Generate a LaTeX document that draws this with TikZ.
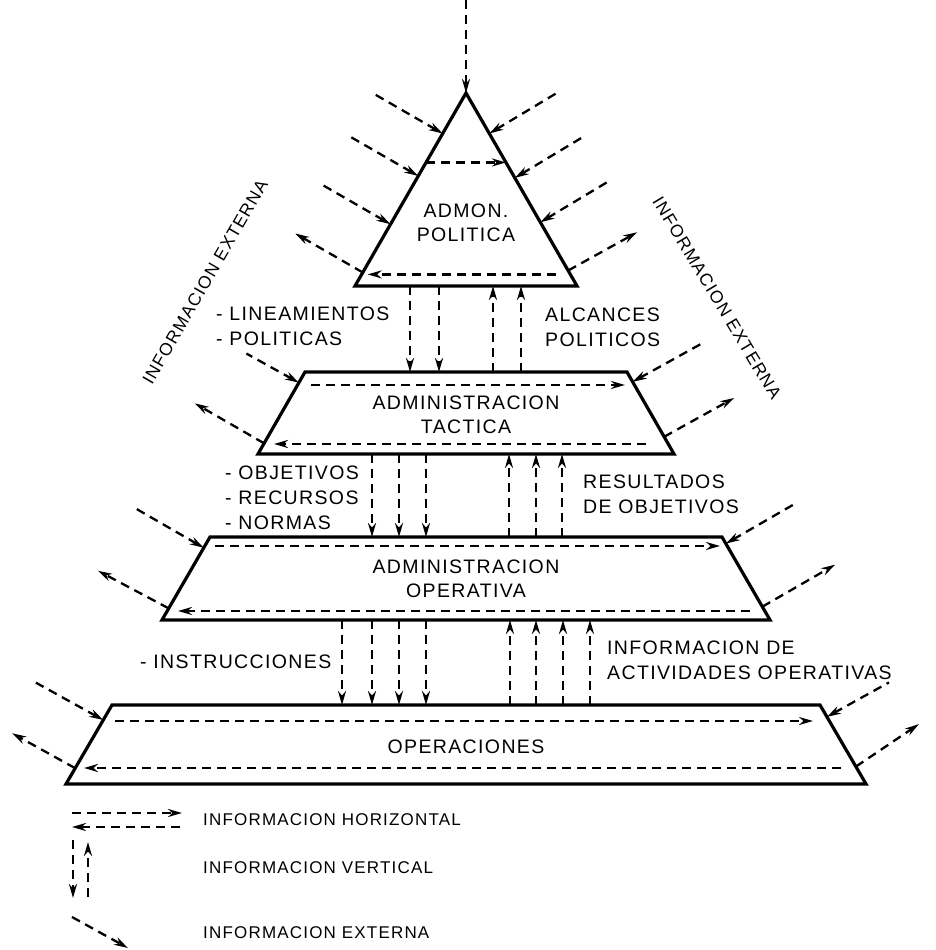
\documentclass[tikz,border=0pt]{standalone}
\usepackage{fontspec}
\setmainfont{Liberation Sans}[LetterSpace=7]
\usetikzlibrary{arrows.meta,calc}

\begin{document}
\begin{tikzpicture}[x=1pt, y=1pt,
    tier/.style={draw=black, line width=3.2pt, line join=miter},
    tiertext/.style={align=center, inner sep=0pt, font=\fontsize{19.5}{24}\selectfont},
    flow/.style={line width=2.3pt, dash pattern=on 9pt off 6pt, -{Stealth[length=14pt,width=8pt]}},
    flowin/.style={line width=2.3pt, dash pattern=on 9pt off 6pt, {Stealth[length=14pt,width=8pt]}-},
    lbl/.style={anchor=west, align=left, inner sep=0pt, font=\fontsize{19.5}{25}\selectfont},
    rotlbl/.style={inner sep=0pt, font=\fontsize{17.5}{20}\selectfont},
    lgd/.style={anchor=west, inner sep=0pt, font=\fontsize{17}{20}\selectfont}]
    \useasboundingbox (0,0) rectangle (936,950);

    \coordinate (polA) at (466,857);
    \coordinate (polL) at (355,664);
    \coordinate (polR) at (577,664);
    \coordinate (polS) at (466,664);

    \coordinate (tacTL) at (305,578);
    \coordinate (tacTR) at (627,578);
    \coordinate (tacBR) at (674,496);
    \coordinate (tacBL) at (258,496);
    \coordinate (tacN) at (466,578);
    \coordinate (tacS) at (466,496);

    \coordinate (opeTL) at (210,413);
    \coordinate (opeTR) at (722,413);
    \coordinate (opeBR) at (770,330);
    \coordinate (opeBL) at (162,330);
    \coordinate (opeN) at (466,413);
    \coordinate (opeS) at (466,330);

    \coordinate (opsTL) at (112,245);
    \coordinate (opsTR) at (820,245);
    \coordinate (opsBR) at (866,166);
    \coordinate (opsBL) at (66,166);
    \coordinate (opsN) at (466,245);

    \draw[tier] (polA) -- (polR) -- (polL) -- cycle;
    \draw[tier] (tacTL) -- (tacTR) -- (tacBR) -- (tacBL) -- cycle;
    \draw[tier] (opeTL) -- (opeTR) -- (opeBR) -- (opeBL) -- cycle;
    \draw[tier] (opsTL) -- (opsTR) -- (opsBR) -- (opsBL) -- cycle;

    \node[tiertext](politica) at (466,727){ADMON.\\POLITICA};
    \node[tiertext](tactica) at (466,535){ADMINISTRACION\\TACTICA};
    \node[tiertext](operativa) at (466,371){ADMINISTRACION\\OPERATIVA};
    \node[tiertext](operaciones) at (466,203){OPERACIONES};

    \node[lbl](lineam) at (216,623.5){- LINEAMIENTOS\\- POLITICAS};
    \node[lbl](alcances) at (545,623){ALCANCES\\POLITICOS};
    \node[lbl](objetivos) at (225,452){- OBJETIVOS\\- RECURSOS\\- NORMAS};
    \node[lbl](resultados) at (583,455.5){RESULTADOS\\DE OBJETIVOS};
    \node[lbl](instr) at (140,288){- INSTRUCCIONES};
    \node[lbl](activ) at (607,290){INFORMACION DE\\ACTIVIDADES OPERATIVAS};

    \node[rotlbl, rotate=60](extleft) at (205,668){INFORMACION EXTERNA};
    \node[rotlbl, rotate=-59](extright) at (717,652){INFORMACION EXTERNA};

    % vertical information
    \draw[flow] ([yshift=93pt]polA) -- (polA);
    \foreach \dx in {-56,-27}
      \draw[flow] ([xshift=\dx]polS) -- ([xshift=\dx]tacN);
    \foreach \dx in {27,55}
      \draw[flow] ([xshift=\dx]tacN) -- ([xshift=\dx]polS);
    \foreach \dx in {-94,-67,-40}
      \draw[flow] ([xshift=\dx]tacS) -- ([xshift=\dx]opeN);
    \foreach \dx in {43,70,96}
      \draw[flow] ([xshift=\dx]opeN) -- ([xshift=\dx]tacS);
    \foreach \dx in {-124,-94,-67,-40}
      \draw[flow] ([xshift=\dx]opeS) -- ([xshift=\dx]opsN);
    \foreach \dx in {44,70,97,124}
      \draw[flow] ([xshift=\dx]opsN) -- ([xshift=\dx]opeS);

    % horizontal information
    \draw[flow] ($(polA)!0.36!(polL)$) -- ($(polA)!0.36!(polR)$);
    \draw[flow] ($(polA)!0.94!(polR)+(-14,0)$) -- ($(polA)!0.94!(polL)+(6,0)$);
    \draw[flow] ($(tacTL)+(6,-13)$) -- ($(tacTR)+(-2,-13)$);
    \draw[flow] ($(tacBR)+(-28,10)$) -- ($(tacBL)+(16,10)$);
    \draw[flow] ($(opeTL)+(5,-9)$) -- ($(opeTR)+(-2,-9)$);
    \draw[flow] ($(opeBR)+(-20,9)$) -- ($(opeBL)+(16,9)$);
    \draw[flow] ($(opsTL)+(3,-16)$) -- ($(opsTR)+(-7,-16)$);
    \draw[flow] ($(opsBR)+(-25,16)$) -- ($(opsBL)+(18,16)$);

    % external information
    \foreach \f in {0.21,0.43,0.68}
      \draw[flowin] ($(polA)!\f!(polL)$) -- ++(150:80pt);
    \draw[flow] ($(polA)!0.93!(polL)$) -- ++(150:78pt);
    \foreach \f in {0.21,0.44,0.67}
      \draw[flowin] ($(polA)!\f!(polR)$) -- ++(31:78pt);
    \draw[flow] ($(polA)!0.92!(polR)$) -- ++(29:79pt);

    \draw[flowin] ($(tacTL)!0.13!(tacBL)$) -- ++(151:60pt);
    \draw[flow] ($(tacTL)!0.87!(tacBL)$) -- ++(150:80pt);
    \draw[flowin] ($(tacTR)!0.12!(tacBR)$) -- ++(29:82pt);
    \draw[flow] ($(tacTR)!0.79!(tacBR)$) -- ++(29:80pt);

    \draw[flowin] ($(opeTL)!0.13!(opeBL)$) -- ++(150:78pt);
    \draw[flow] ($(opeTL)!0.86!(opeBL)$) -- ++(152:80pt);
    \draw[flowin] ($(opeTR)!0.08!(opeBR)$) -- ++(30:80pt);
    \draw[flow] ($(opeTR)!0.84!(opeBR)$) -- ++(30:84pt);

    \draw[flowin] ($(opsTL)!0.19!(opsBL)$) -- ++(151:77pt);
    \draw[flow] ($(opsTL)!0.8!(opsBL)$) -- ++(151:72pt);
    \draw[flowin] ($(opsTR)!0.15!(opsBR)$) -- ++(29:71pt);
    \draw[flow] ($(opsTR)!0.78!(opsBR)$) -- ++(34:76pt);

    % legend
    \node[lgd](lgdhor) at (203,130){INFORMACION HORIZONTAL};
    \node[lgd](lgdver) at (203,82){INFORMACION VERTICAL};
    \node[lgd](lgdext) at (203,17){INFORMACION EXTERNA};
    \draw[flow] ([shift={(-131,7)}]lgdhor.west) -- ([shift={(-21,7)}]lgdhor.west);
    \draw[flow] ([shift={(-23,-7)}]lgdhor.west) -- ([shift={(-131,-7)}]lgdhor.west);
    \draw[flow] ([shift={(-130,28)}]lgdver.west) -- ([shift={(-130,-30)}]lgdver.west);
    \draw[flow] ([shift={(-115,-29)}]lgdver.west) -- ([shift={(-115,26)}]lgdver.west);
    \draw[flow] ([shift={(-131,16)}]lgdext.west) -- ([shift={(-75,-15)}]lgdext.west);
\end{tikzpicture}
\end{document}
